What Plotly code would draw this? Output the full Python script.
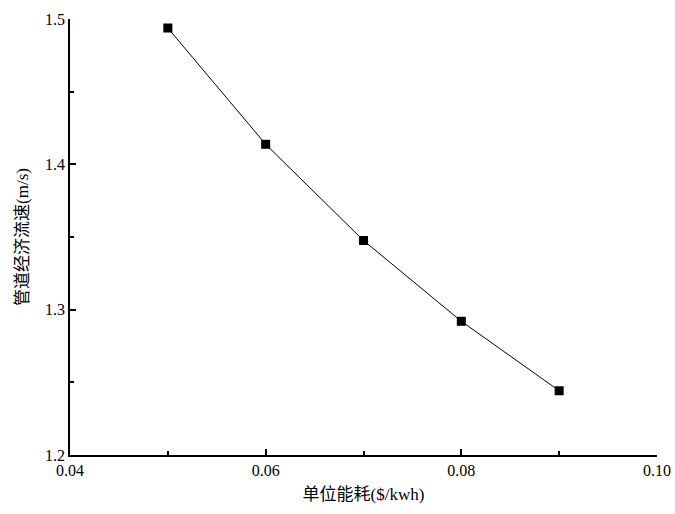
import plotly.graph_objects as go

energy_cost = [0.05, 0.06, 0.07, 0.08, 0.09]
velocity = [1.4938, 1.4138, 1.3476, 1.2920, 1.2442]
x_ticks = [0.04, 0.06, 0.08, 0.10]
x_tick_text = ["0.04", "0.06", "0.08", "0.10"]
y_ticks = [1.2, 1.3, 1.4, 1.5]
y_tick_text = ["1.2", "1.3", "1.4", "1.5"]

font_family = "Liberation Serif, Noto Sans CJK SC, serif"

fig = go.Figure()
fig.add_trace(go.Scatter(
    x=energy_cost, y=velocity, mode="lines+markers",
    line=dict(color="black", width=1),
    marker=dict(symbol="square", size=9, color="black"),
    showlegend=False,
))

fig.update_layout(
    width=675, height=514,
    margin=dict(l=70, r=18, t=19, b=59, autoexpand=False),
    paper_bgcolor="white", plot_bgcolor="white",
    font=dict(family=font_family, size=16, color="black"),
)
fig.update_xaxes(
    range=[0.04, 0.10], tickvals=x_ticks, ticktext=x_tick_text,
    ticks="inside", ticklen=6, tickwidth=1.5, tickcolor="black",
    minor=dict(ticks="inside", ticklen=4, tickwidth=1.5, tickcolor="black", dtick=0.01, tick0=0.04),
    showline=True, linewidth=1.5, linecolor="black", mirror=False,
    showgrid=False, zeroline=False, automargin=False,
    tickfont=dict(size=16, color="black"),
    title=dict(text="单位能耗($/kwh)", font=dict(size=17, color="black"), standoff=10),
)
fig.update_yaxes(
    range=[1.2, 1.5], tickvals=y_ticks, ticktext=y_tick_text,
    ticks="inside", ticklen=6, tickwidth=1.5, tickcolor="black",
    minor=dict(ticks="inside", ticklen=4, tickwidth=1.5, tickcolor="black", dtick=0.05, tick0=1.2),
    showline=True, linewidth=1.5, linecolor="black", mirror=False,
    showgrid=False, zeroline=False, automargin=False,
    tickfont=dict(size=16, color="black"),
    title=dict(text="管道经济流速(m/s)", font=dict(size=17, color="black"), standoff=12),
)

fig.write_html(
    "out.html",
    config={"displayModeBar": False},
    post_script="document.body.style.margin='0';document.body.style.padding='0';",
)
